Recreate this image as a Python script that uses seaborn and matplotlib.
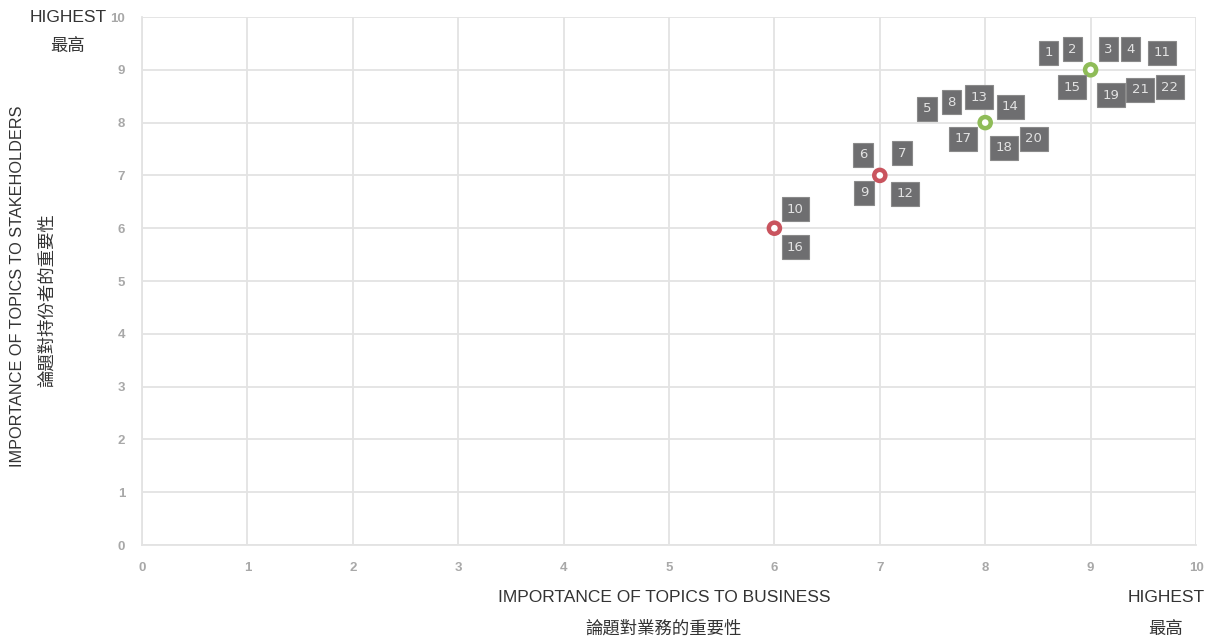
import matplotlib
matplotlib.use("Agg")
import matplotlib.pyplot as plt
import seaborn as sns
import pandas as pd

# ---- data ----
point_x = [6, 7, 8, 9]
point_y = [6, 7, 8, 9]
point_group = ["low", "low", "high", "high"]
group_colors = {"low": "#c9545e", "high": "#8fbc58"}

topic_ids = ["1", "2", "3", "4", "11", "15", "19", "21", "22",
             "5", "8", "13", "14", "17", "18", "20",
             "6", "7", "9", "12", "10", "16"]
topic_x = [8.60, 8.83, 9.17, 9.38, 9.68, 8.82, 9.19, 9.47, 9.75,
           7.45, 7.68, 7.94, 8.24, 7.79, 8.18, 8.46,
           6.84, 7.21, 6.85, 7.24, 6.20, 6.20]
topic_y = [9.32, 9.39, 9.39, 9.39, 9.32, 8.67, 8.52, 8.62, 8.67,
           8.26, 8.39, 8.48, 8.30, 7.69, 7.52, 7.69,
           7.39, 7.42, 6.67, 6.65, 6.36, 5.64]

tick_values = list(range(0, 11))
x_title_en = "IMPORTANCE OF TOPICS TO BUSINESS"
x_title_zh = "論題對業務的重要性"
y_title_en = "IMPORTANCE OF TOPICS TO STAKEHOLDERS"
y_title_zh = "論題對持份者的重要性"
high_en = "HIGHEST"
high_zh = "最高"

# ---- plot ----
sns.set_theme(style="white")
plt.rcParams['font.family'] = ['Liberation Sans', 'Noto Sans CJK TC', 'DejaVu Sans']

fig = plt.figure(figsize=(12.11, 6.39), dpi=100)
ax = fig.add_axes([142/1211, 1 - 545/639, (1196-142)/1211, (545-17)/639])

df = pd.DataFrame({"x": point_x, "y": point_y, "g": point_group})
sns.scatterplot(data=df, x="x", y="y", hue="g", palette=group_colors,
                ax=ax, legend=False, zorder=5, s=64, linewidth=0)
# make hollow rings
coll = ax.collections[-1]
fc = coll.get_facecolors()
coll.set_edgecolors(fc)
coll.set_facecolors("white")
coll.set_linewidths(3.2)

for t, x, y in zip(topic_ids, topic_x, topic_y):
    ax.text(x, y, t, ha="center", va="center", fontsize=9.5,
            family=["DejaVu Sans"], color="#e2e2e2", zorder=6,
            bbox=dict(boxstyle="square,pad=0.42", fc="#6e6e70", ec="#8a8a8a", lw=0.8))

ax.set_xlim(0, 10)
ax.set_ylim(0, 10)
ax.set_xticks(tick_values)
ax.set_yticks(tick_values)
ax.set_xticklabels([str(v) for v in tick_values])
ax.set_yticklabels([str(v) for v in tick_values])
ax.grid(True, color="#e3e3e3", linewidth=1.3)
ax.set_axisbelow(True)
for s in ["top", "right"]:
    ax.spines[s].set_visible(False)
for s in ["left", "bottom"]:
    ax.spines[s].set_color("#e3e3e3")
    ax.spines[s].set_linewidth(1.3)
ax.tick_params(axis="both", length=0, labelsize=9.5, labelcolor="#a8a8a8", pad=12)
for lab in ax.get_xticklabels() + ax.get_yticklabels():
    lab.set_fontweight("bold")
ax.set_xlabel("")
ax.set_ylabel("")

txt = "#333333"
en_size = 12.5
zh_size = 12.5
fig.text(664/1211, 1 - 598/639, x_title_en, ha="center", va="center", fontsize=en_size, color=txt)
fig.text(664/1211, 1 - 629/639, x_title_zh, ha="center", va="center", fontsize=zh_size, color=txt,
         family=["Noto Sans CJK TC"], fontweight="light")
fig.text(1166/1211, 1 - 598/639, high_en, ha="center", va="center", fontsize=en_size, color=txt)
fig.text(1166/1211, 1 - 629/639, high_zh, ha="center", va="center", fontsize=zh_size, color=txt,
         family=["Noto Sans CJK TC"], fontweight="light")
fig.text(68/1211, 1 - 17/639, high_en, ha="center", va="center", fontsize=en_size, color=txt)
fig.text(68/1211, 1 - 46/639, high_zh, ha="center", va="center", fontsize=zh_size, color=txt,
         family=["Noto Sans CJK TC"], fontweight="light")
fig.text(18/1211, 1 - 286/639, y_title_en, ha="center", va="center", rotation=90,
         fontsize=11.7, color=txt)
fig.text(47/1211, 1 - 300/639, y_title_zh, ha="center", va="center", rotation=90,
         fontsize=zh_size, color=txt, family=["Noto Sans CJK TC"], fontweight="light")

fig.savefig("out.png", dpi=100)
